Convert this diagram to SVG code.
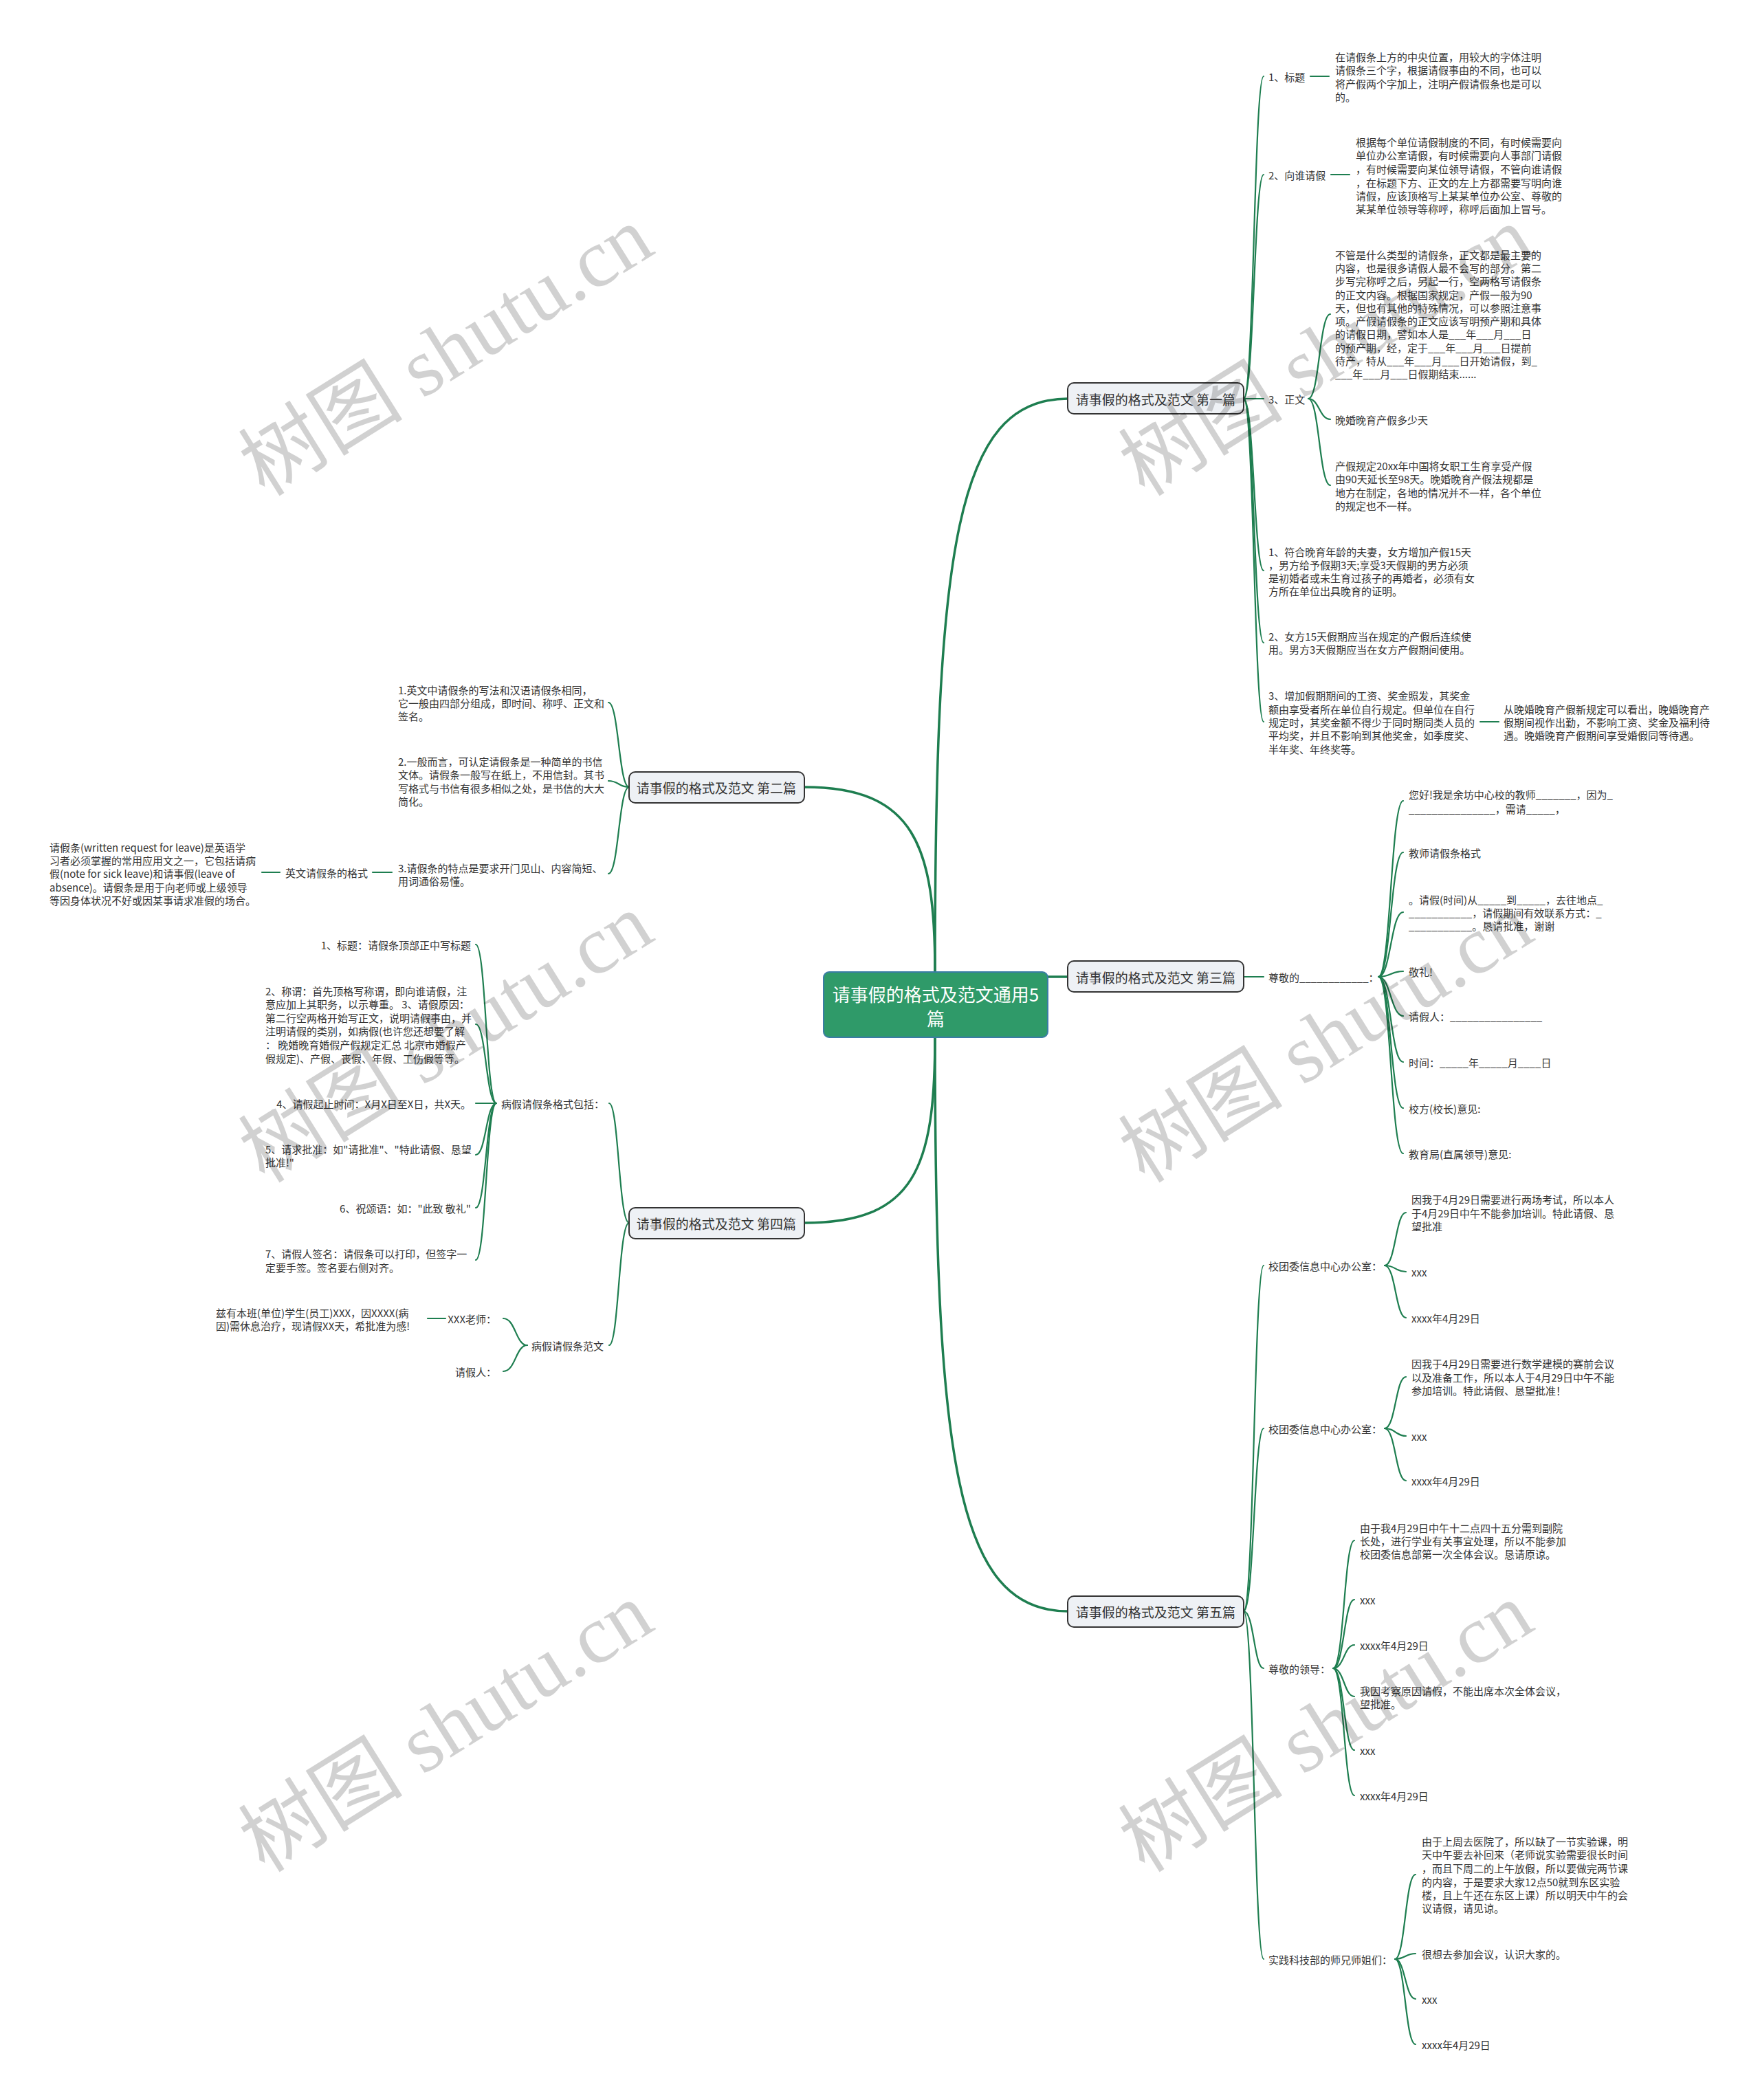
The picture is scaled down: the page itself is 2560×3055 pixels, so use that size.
<svg xmlns="http://www.w3.org/2000/svg" width="2560" height="3055" viewBox="0 0 2560 3055">
<style>
.t{font-family:"Noto Sans CJK SC","Liberation Sans",sans-serif;font-size:15px;fill:#333;dominant-baseline:central}
.e{text-anchor:end}
.l1{font-family:"Noto Sans CJK SC","Liberation Sans",sans-serif;font-size:19px;fill:#333;text-anchor:middle;dominant-baseline:central}
.root{font-family:"Noto Sans CJK SC","Liberation Sans",sans-serif;font-size:26px;fill:#fff;text-anchor:middle;dominant-baseline:central}
.box{fill:#eef1f5;stroke:#333;stroke-width:2}
.wm{font-family:"Liberation Serif","Noto Sans CJK SC",serif;font-size:120px;fill:#000;fill-opacity:0.18;text-anchor:middle;dominant-baseline:central}
</style>
<rect width="2560" height="3055" fill="#fff"/>
<g id="connectors" fill="none" stroke="#1e7e50" stroke-linecap="round">
<g stroke-width="3.5">
<path d="M1360 1414 C1360 800 1390 580 1553 580"/>
<path d="M1360 1414 C1360 1230 1330 1145 1170 1145"/>
<path d="M1524 1421 L1553 1421"/>
<path d="M1360 1509 C1360 1700 1330 1779 1170 1779"/>
<path d="M1360 1509 C1360 2120 1390 2344 1553 2344"/>
</g>
<g stroke-width="2.2">
<path d="M1809 580 C1824 580 1824 111 1838 111"/>
<path d="M1809 580 C1824 580 1824 254 1838 254"/>
<path d="M1809 580 L1838 580"/>
<path d="M1809 580 C1824 580 1824 830 1838 830"/>
<path d="M1809 580 C1824 580 1824 935 1838 935"/>
<path d="M1809 580 C1824 580 1824 1050 1838 1050"/>
<path d="M1906 111 L1933 111"/>
<path d="M1936 254 L1963 254"/>
<path d="M2153 1050 L2180 1050"/>
<path d="M1903 580 C1919 580 1919 457 1935 457"/>
<path d="M1903 580 C1919 580 1919 610 1935 610"/>
<path d="M1903 580 C1919 580 1919 706 1935 706"/>
<path d="M1809 1421 L1838 1421"/>
<path d="M2005 1421 C2023 1421 2023 1165 2041 1165"/>
<path d="M2005 1421 C2023 1421 2023 1240 2041 1240"/>
<path d="M2005 1421 C2023 1421 2023 1327 2041 1327"/>
<path d="M2005 1421 C2023 1421 2023 1413 2041 1413"/>
<path d="M2005 1421 C2023 1421 2023 1478 2041 1478"/>
<path d="M2005 1421 C2023 1421 2023 1545 2041 1545"/>
<path d="M2005 1421 C2023 1421 2023 1612 2041 1612"/>
<path d="M2005 1421 C2023 1421 2023 1678 2041 1678"/>
<path d="M1809 2344 C1824 2344 1824 1841 1838 1841"/>
<path d="M1809 2344 C1824 2344 1824 2078 1838 2078"/>
<path d="M1809 2344 C1824 2344 1824 2427 1838 2427"/>
<path d="M1809 2344 C1824 2344 1824 2850 1838 2850"/>
<path d="M2014 1841 C2030 1841 2030 1764 2045 1764"/>
<path d="M2014 1841 C2030 1841 2030 1850 2045 1850"/>
<path d="M2014 1841 C2030 1841 2030 1917 2045 1917"/>
<path d="M2014 2078 C2030 2078 2030 2003 2045 2003"/>
<path d="M2014 2078 C2030 2078 2030 2089 2045 2089"/>
<path d="M2014 2078 C2030 2078 2030 2154 2045 2154"/>
<path d="M1939 2427 C1955 2427 1955 2241 1970 2241"/>
<path d="M1939 2427 C1955 2427 1955 2327 1970 2327"/>
<path d="M1939 2427 C1955 2427 1955 2393 1970 2393"/>
<path d="M1939 2427 C1955 2427 1955 2468 1970 2468"/>
<path d="M1939 2427 C1955 2427 1955 2546 1970 2546"/>
<path d="M1939 2427 C1955 2427 1955 2612 1970 2612"/>
<path d="M2029 2850 C2044 2850 2044 2727 2059 2727"/>
<path d="M2029 2850 C2044 2850 2044 2842 2059 2842"/>
<path d="M2029 2850 C2044 2850 2044 2908 2059 2908"/>
<path d="M2029 2850 C2044 2850 2044 2974 2059 2974"/>
<path d="M915 1145 C900 1145 900 1022 885 1022"/>
<path d="M915 1145 C900 1145 900 1136 885 1136"/>
<path d="M915 1145 C900 1145 900 1271 885 1271"/>
<path d="M570 1269 L542 1269"/>
<path d="M407 1269 L381 1269"/>
<path d="M915 1779 C900 1779 900 1605 886 1605"/>
<path d="M915 1779 C900 1779 900 1957 886 1957"/>
<path d="M722 1605 C707 1605 707 1374 692 1374"/>
<path d="M722 1605 C707 1605 707 1490 692 1490"/>
<path d="M722 1605 L692 1605"/>
<path d="M722 1605 C707 1605 707 1680 692 1680"/>
<path d="M722 1605 C707 1605 707 1757 692 1757"/>
<path d="M722 1605 C707 1605 707 1833 692 1833"/>
<path d="M767 1957 C750 1957 750 1918 732 1918"/>
<path d="M767 1957 C750 1957 750 1995 732 1995"/>
<path d="M648 1918 L622 1918"/>
</g>
</g>

<g id="n-root">
<rect x="1198" y="1414" width="326" height="95" rx="8" fill="#2f9a69" stroke="#3a7ca5" stroke-width="2"/>
<text class="root" x="1361" y="1445">请事假的格式及范文通用5</text>
<text class="root" x="1361" y="1480">篇</text>
</g>

<g id="n-p1"><rect class="box" x="1553" y="557" width="256" height="45" rx="9"/><text class="l1" x="1681" y="580">请事假的格式及范文 第一篇</text></g>
<g id="n-p2"><rect class="box" x="915" y="1123" width="255" height="45" rx="9"/><text class="l1" x="1042" y="1145">请事假的格式及范文 第二篇</text></g>
<g id="n-p3"><rect class="box" x="1553" y="1398" width="256" height="45" rx="9"/><text class="l1" x="1681" y="1421">请事假的格式及范文 第三篇</text></g>
<g id="n-p4"><rect class="box" x="915" y="1757" width="255" height="45" rx="9"/><text class="l1" x="1042" y="1779">请事假的格式及范文 第四篇</text></g>
<g id="n-p5"><rect class="box" x="1553" y="2322" width="256" height="45" rx="9"/><text class="l1" x="1681" y="2344">请事假的格式及范文 第五篇</text></g>

<!-- 第一篇 -->
<g id="n-1-1"><text class="t" x="1845" y="111">1、标题</text></g>
<g id="n-1-1-d"><text class="t"><tspan x="1942" y="82">在请假条上方的中央位置，用较大的字体注明</tspan><tspan x="1942" y="101">请假条三个字，根据请假事由的不同，也可以</tspan><tspan x="1942" y="121">将产假两个字加上，注明产假请假条也是可以</tspan><tspan x="1942" y="140">的。</tspan></text></g>
<g id="n-1-2"><text class="t" x="1845" y="254">2、向谁请假</text></g>
<g id="n-1-2-d"><text class="t"><tspan x="1972" y="206">根据每个单位请假制度的不同，有时候需要向</tspan><tspan x="1972" y="225">单位办公室请假，有时候需要向人事部门请假</tspan><tspan x="1972" y="245">，有时候需要向某位领导请假，不管向谁请假</tspan><tspan x="1972" y="265">，在标题下方、正文的左上方都需要写明向谁</tspan><tspan x="1972" y="284">请假，应该顶格写上某某单位办公室、尊敬的</tspan><tspan x="1972" y="303">某某单位领导等称呼，称呼后面加上冒号。</tspan></text></g>
<g id="n-1-3"><text class="t" x="1845" y="580">3、正文</text></g>
<g id="n-1-3-a"><text class="t"><tspan x="1942" y="370">不管是什么类型的请假条，正文都是最主要的</tspan><tspan x="1942" y="389">内容，也是很多请假人最不会写的部分。第二</tspan><tspan x="1942" y="408">步写完称呼之后，另起一行，空两格写请假条</tspan><tspan x="1942" y="428">的正文内容。根据国家规定，产假一般为90</tspan><tspan x="1942" y="447">天，但也有其他的特殊情况，可以参照注意事</tspan><tspan x="1942" y="466">项。产假请假条的正文应该写明预产期和具体</tspan><tspan x="1942" y="485">的请假日期，譬如本人是___年___月___日</tspan><tspan x="1942" y="505">的预产期，经，定于___年___月___日提前</tspan><tspan x="1942" y="524">待产，特从___年___月___日开始请假，到_</tspan><tspan x="1942" y="543">___年___月___日假期结束......</tspan></text></g>
<g id="n-1-3-b"><text class="t" x="1942" y="610">晚婚晚育产假多少天</text></g>
<g id="n-1-3-c"><text class="t"><tspan x="1942" y="677">产假规定20xx年中国将女职工生育享受产假</tspan><tspan x="1942" y="696">由90天延长至98天。晚婚晚育产假法规都是</tspan><tspan x="1942" y="716">地方在制定，各地的情况并不一样，各个单位</tspan><tspan x="1942" y="735">的规定也不一样。</tspan></text></g>
<g id="n-1-4"><text class="t"><tspan x="1845" y="802">1、符合晚育年龄的夫妻，女方增加产假15天</tspan><tspan x="1845" y="821">，男方给予假期3天;享受3天假期的男方必须</tspan><tspan x="1845" y="840">是初婚者或未生育过孩子的再婚者，必须有女</tspan><tspan x="1845" y="859">方所在单位出具晚育的证明。</tspan></text></g>
<g id="n-1-5"><text class="t"><tspan x="1845" y="925">2、女方15天假期应当在规定的产假后连续使</tspan><tspan x="1845" y="944">用。男方3天假期应当在女方产假期间使用。</tspan></text></g>
<g id="n-1-6"><text class="t"><tspan x="1845" y="1011">3、增加假期期间的工资、奖金照发，其奖金</tspan><tspan x="1845" y="1031">额由享受者所在单位自行规定。但单位在自行</tspan><tspan x="1845" y="1050">规定时，其奖金额不得少于同时期同类人员的</tspan><tspan x="1845" y="1069">平均奖，并且不影响到其他奖金，如季度奖、</tspan><tspan x="1845" y="1089">半年奖、年终奖等。</tspan></text></g>
<g id="n-1-6-a"><text class="t"><tspan x="2187" y="1031">从晚婚晚育产假新规定可以看出，晚婚晚育产</tspan><tspan x="2187" y="1050">假期间视作出勤，不影响工资、奖金及福利待</tspan><tspan x="2187" y="1069">遇。晚婚晚育产假期间享受婚假同等待遇。</tspan></text></g>

<!-- 第三篇 -->
<g id="n-3-1"><text class="t" x="1845" y="1421">尊敬的____________：</text></g>
<g id="n-3-1-a"><text class="t"><tspan x="2049" y="1155">您好!我是余坊中心校的教师_______，因为_</tspan><tspan x="2049" y="1176">_______________，需请_____，</tspan></text></g>
<g id="n-3-1-b"><text class="t" x="2049" y="1240">教师请假条格式</text></g>
<g id="n-3-1-c"><text class="t"><tspan x="2049" y="1308">。请假(时间)从_____到_____，去往地点_</tspan><tspan x="2049" y="1327">___________，请假期间有效联系方式：_</tspan><tspan x="2049" y="1346">___________。恳请批准，谢谢</tspan></text></g>
<g id="n-3-1-d"><text class="t" x="2049" y="1413">敬礼!</text></g>
<g id="n-3-1-e"><text class="t" x="2049" y="1478">请假人：________________</text></g>
<g id="n-3-1-f"><text class="t" x="2049" y="1545">时间：_____年_____月____日</text></g>
<g id="n-3-1-g"><text class="t" x="2049" y="1612">校方(校长)意见:</text></g>
<g id="n-3-1-h"><text class="t" x="2049" y="1678">教育局(直属领导)意见:</text></g>

<!-- 第五篇 -->
<g id="n-5-1"><text class="t" x="1845" y="1841">校团委信息中心办公室：</text></g>
<g id="n-5-1-a"><text class="t"><tspan x="2053" y="1744">因我于4月29日需要进行两场考试，所以本人</tspan><tspan x="2053" y="1764">于4月29日中午不能参加培训。特此请假、恳</tspan><tspan x="2053" y="1783">望批准</tspan></text></g>
<g id="n-5-1-b"><text class="t" x="2053" y="1850">xxx</text></g>
<g id="n-5-1-c"><text class="t" x="2053" y="1917">xxxx年4月29日</text></g>
<g id="n-5-2"><text class="t" x="1845" y="2078">校团委信息中心办公室：</text></g>
<g id="n-5-2-a"><text class="t"><tspan x="2053" y="1983">因我于4月29日需要进行数学建模的赛前会议</tspan><tspan x="2053" y="2003">以及准备工作，所以本人于4月29日中午不能</tspan><tspan x="2053" y="2022">参加培训。特此请假、恳望批准！</tspan></text></g>
<g id="n-5-2-b"><text class="t" x="2053" y="2089">xxx</text></g>
<g id="n-5-2-c"><text class="t" x="2053" y="2154">xxxx年4月29日</text></g>
<g id="n-5-3"><text class="t" x="1845" y="2427">尊敬的领导：</text></g>
<g id="n-5-3-a"><text class="t"><tspan x="1978" y="2222">由于我4月29日中午十二点四十五分需到副院</tspan><tspan x="1978" y="2241">长处，进行学业有关事宜处理，所以不能参加</tspan><tspan x="1978" y="2260">校团委信息部第一次全体会议。恳请原谅。</tspan></text></g>
<g id="n-5-3-b"><text class="t" x="1978" y="2327">xxx</text></g>
<g id="n-5-3-c"><text class="t" x="1978" y="2393">xxxx年4月29日</text></g>
<g id="n-5-3-d"><text class="t"><tspan x="1978" y="2459">我因考察原因请假，不能出席本次全体会议，</tspan><tspan x="1978" y="2478">望批准。</tspan></text></g>
<g id="n-5-3-e"><text class="t" x="1978" y="2546">xxx</text></g>
<g id="n-5-3-f"><text class="t" x="1978" y="2612">xxxx年4月29日</text></g>
<g id="n-5-4"><text class="t" x="1845" y="2850">实践科技部的师兄师姐们：</text></g>
<g id="n-5-4-a"><text class="t"><tspan x="2068" y="2678">由于上周去医院了，所以缺了一节实验课，明</tspan><tspan x="2068" y="2697">天中午要去补回来（老师说实验需要很长时间</tspan><tspan x="2068" y="2717">，而且下周二的上午放假，所以要做完两节课</tspan><tspan x="2068" y="2737">的内容，于是要求大家12点50就到东区实验</tspan><tspan x="2068" y="2756">楼，且上午还在东区上课）所以明天中午的会</tspan><tspan x="2068" y="2775">议请假，请见谅。</tspan></text></g>
<g id="n-5-4-b"><text class="t" x="2068" y="2842">很想去参加会议，认识大家的。</text></g>
<g id="n-5-4-c"><text class="t" x="2068" y="2908">xxx</text></g>
<g id="n-5-4-d"><text class="t" x="2068" y="2974">xxxx年4月29日</text></g>

<!-- 第二篇 -->
<g id="n-2-1"><text class="t"><tspan x="579" y="1003">1.英文中请假条的写法和汉语请假条相同，</tspan><tspan x="579" y="1022">它一般由四部分组成，即时间、称呼、正文和</tspan><tspan x="579" y="1041">签名。</tspan></text></g>
<g id="n-2-2"><text class="t"><tspan x="579" y="1107">2.一般而言，可认定请假条是一种简单的书信</tspan><tspan x="579" y="1126">文体。请假条一般写在纸上，不用信封。其书</tspan><tspan x="579" y="1146">写格式与书信有很多相似之处，是书信的大大</tspan><tspan x="579" y="1165">简化。</tspan></text></g>
<g id="n-2-3"><text class="t"><tspan x="579" y="1262">3.请假条的特点是要求开门见山、内容简短、</tspan><tspan x="579" y="1281">用词通俗易懂。</tspan></text></g>
<g id="n-2-3-a"><text class="t" x="415" y="1269">英文请假条的格式</text></g>
<g id="n-2-3-b"><text class="t"><tspan x="72" y="1232">请假条(written request for leave)是英语学</tspan><tspan x="72" y="1251">习者必须掌握的常用应用文之一，它包括请病</tspan><tspan x="72" y="1270">假(note for sick leave)和请事假(leave of</tspan><tspan x="72" y="1290">absence)。请假条是用于向老师或上级领导</tspan><tspan x="72" y="1309">等因身体状况不好或因某事请求准假的场合。</tspan></text></g>

<!-- 第四篇 -->
<g id="n-4-1"><text class="t" x="729" y="1605">病假请假条格式包括：</text></g>
<g id="n-4-1-a"><text class="t e" x="685" y="1374">1、标题：请假条顶部正中写标题</text></g>
<g id="n-4-1-b"><text class="t"><tspan x="386" y="1441">2、称谓：首先顶格写称谓，即向谁请假，注</tspan><tspan x="386" y="1460">意应加上其职务，以示尊重。 3、请假原因：</tspan><tspan x="386" y="1480">第二行空两格开始写正文，说明请假事由，并</tspan><tspan x="386" y="1499">注明请假的类别，如病假(也许您还想要了解</tspan><tspan x="386" y="1519">：  晚婚晚育婚假产假规定汇总 北京市婚假产</tspan><tspan x="386" y="1539">假规定)、产假、丧假、年假、工伤假等等。</tspan></text></g>
<g id="n-4-1-c"><text class="t e" x="685" y="1605">4、请假起止时间：X月X日至X日，共X天。</text></g>
<g id="n-4-1-d"><text class="t"><tspan x="386" y="1671">5、请求批准：如"请批准"、"特此请假、恳望</tspan><tspan x="386" y="1690">批准!"</tspan></text></g>
<g id="n-4-1-e"><text class="t e" x="685" y="1757">6、祝颂语：如："此致 敬礼"</text></g>
<g id="n-4-1-f"><text class="t"><tspan x="386" y="1823">7、请假人签名：请假条可以打印，但签字一</tspan><tspan x="386" y="1843">定要手签。签名要右侧对齐。</tspan></text></g>
<g id="n-4-2"><text class="t" x="773" y="1957">病假请假条范文</text></g>
<g id="n-4-2-a"><text class="t e" x="722" y="1918">XXX老师：</text></g>
<g id="n-4-2-a1"><text class="t"><tspan x="314" y="1909">兹有本班(单位)学生(员工)XXX，因XXXX(病</tspan><tspan x="314" y="1928">因)需休息治疗，现请假XX天，希批准为感!</tspan></text></g>
<g id="n-4-2-b"><text class="t e" x="722" y="1995">请假人：</text></g>

<g id="watermarks">
<text class="wm" transform="translate(649,511) rotate(-32)">树图 shutu.cn</text>
<text class="wm" transform="translate(1929,511) rotate(-32)">树图 shutu.cn</text>
<text class="wm" transform="translate(649,1510) rotate(-32)">树图 shutu.cn</text>
<text class="wm" transform="translate(1929,1510) rotate(-32)">树图 shutu.cn</text>
<text class="wm" transform="translate(649,2513) rotate(-32)">树图 shutu.cn</text>
<text class="wm" transform="translate(1929,2513) rotate(-32)">树图 shutu.cn</text>
</g>
</svg>
